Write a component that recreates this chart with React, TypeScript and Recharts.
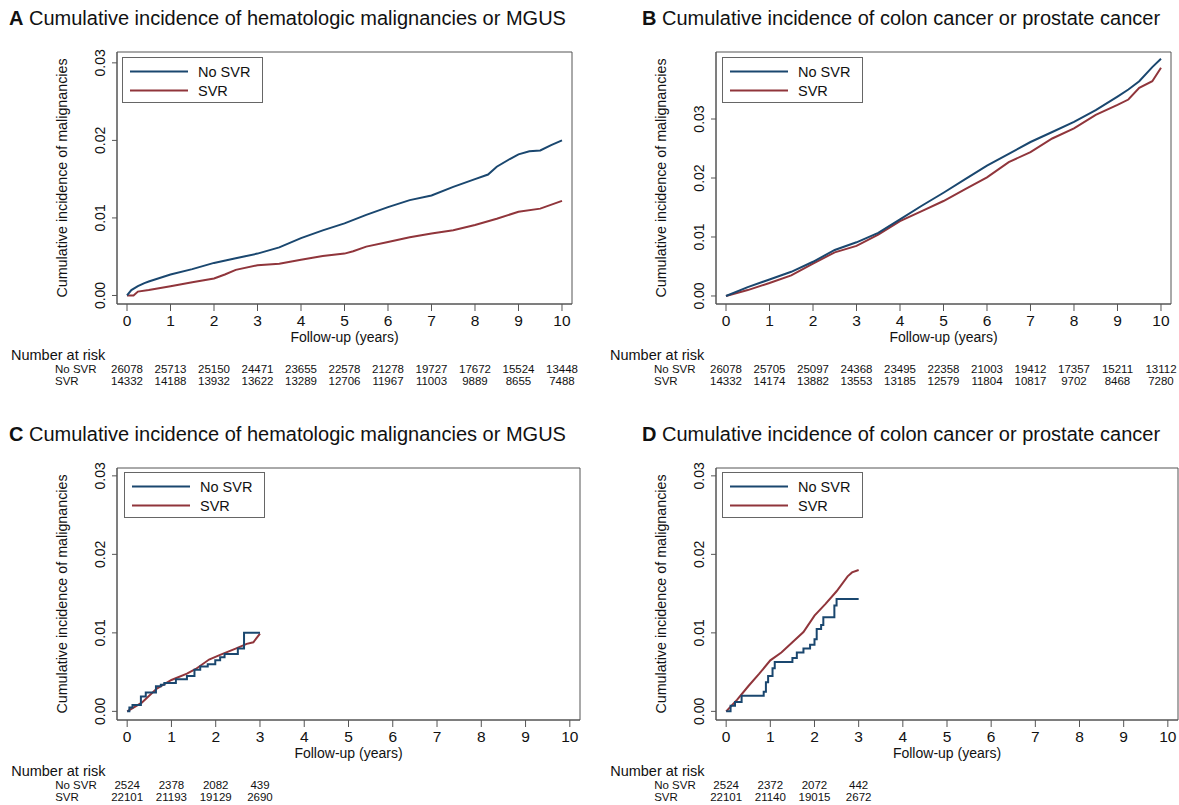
import { LineChart, Line, XAxis, YAxis, Legend, ReferenceArea } from "recharts"

const FONT = '"Liberation Sans", Arial, Helvetica, sans-serif'
const NAVY = "#1a476f"
const MAROON = "#90353b"
const FRAME = "#555"

const years = [0, 1, 2, 3, 4, 5, 6, 7, 8, 9, 10]
const yTicks = [0, 0.01, 0.02, 0.03]

// A: hematologic malignancies or MGUS
const aNoSvrT = [0, 0.1, 0.25, 0.4, 0.5, 1, 1.5, 2, 2.5, 3, 3.5, 4, 4.5, 5, 5.5, 6, 6.5, 7, 7.5, 8, 8.3, 8.5, 8.8, 9, 9.25, 9.5, 9.75, 10]
const aNoSvrV = [0, 0.0007, 0.0012, 0.0016, 0.0018, 0.0027, 0.0034, 0.0042, 0.0048, 0.0054, 0.0062, 0.0074, 0.0084, 0.0093, 0.0104, 0.0114, 0.0123, 0.0129, 0.014, 0.015, 0.0156, 0.0166, 0.0176, 0.0182, 0.0186, 0.0187, 0.0194, 0.02]
const aSvrT = [0, 0.15, 0.25, 0.5, 1, 1.5, 2, 2.25, 2.5, 3, 3.5, 4, 4.5, 5, 5.2, 5.5, 6, 6.5, 7, 7.5, 8, 8.5, 9, 9.5, 10]
const aSvrV = [0, 0, 0.0005, 0.0007, 0.0012, 0.0017, 0.0022, 0.0027, 0.0033, 0.0039, 0.0041, 0.0046, 0.0051, 0.0054, 0.0057, 0.0063, 0.0069, 0.0075, 0.008, 0.0084, 0.0091, 0.0099, 0.0108, 0.0112, 0.0122]
const aRiskNoSvr = [26078, 25713, 25150, 24471, 23655, 22578, 21278, 19727, 17672, 15524, 13448]
const aRiskSvr = [14332, 14188, 13932, 13622, 13289, 12706, 11967, 11003, 9889, 8655, 7488]

// B: colon cancer or prostate cancer
const bT = [0, 0.5, 1, 1.5, 2, 2.5, 3, 3.5, 4, 4.5, 5, 5.5, 6, 6.5, 7, 7.5, 8, 8.5, 9, 9.25, 9.5, 9.8, 10]
const bNoSvrV = [0, 0.0015, 0.0028, 0.0041, 0.0058, 0.0078, 0.0091, 0.0107, 0.013, 0.0153, 0.0175, 0.0198, 0.0221, 0.0241, 0.0261, 0.0278, 0.0295, 0.0315, 0.0338, 0.035, 0.0364, 0.0388, 0.0402]
const bSvrV = [0, 0.001, 0.0022, 0.0035, 0.0055, 0.0074, 0.0085, 0.0104, 0.0127, 0.0144, 0.0161, 0.0181, 0.0201, 0.0227, 0.0244, 0.0267, 0.0284, 0.0307, 0.0324, 0.0333, 0.0353, 0.0364, 0.0387]
const bRiskNoSvr = [26078, 25705, 25097, 24368, 23495, 22358, 21003, 19412, 17357, 15211, 13112]
const bRiskSvr = [14332, 14174, 13882, 13553, 13185, 12579, 11804, 10817, 9702, 8468, 7280]

// C: hematologic malignancies or MGUS
const cNoSvrT = [0, 0.05, 0.12, 0.31, 0.42, 0.65, 0.76, 0.84, 1.1, 1.35, 1.52, 1.65, 1.82, 1.99, 2.1, 2.2, 2.5, 2.64, 3]
const cNoSvrV = [0, 0.0005, 0.0008, 0.0019, 0.0024, 0.0032, 0.0034, 0.0036, 0.0041, 0.0045, 0.0053, 0.0057, 0.006, 0.0065, 0.0069, 0.0073, 0.008, 0.01, 0.01]
const cSvrT = [0, 0.33, 0.67, 1, 1.35, 1.55, 1.85, 2.1, 2.45, 2.7, 2.85, 3]
const cSvrV = [0, 0.0011, 0.0029, 0.004, 0.0048, 0.0054, 0.0066, 0.0072, 0.008, 0.0086, 0.0088, 0.0099]
const cRiskNoSvr = [2524, 2378, 2082, 439]
const cRiskSvr = [22101, 21193, 19129, 2690]

// D: colon cancer or prostate cancer
const dNoSvrT = [0, 0.1, 0.2, 0.35, 0.85, 0.9, 0.95, 1.05, 1.1, 1.5, 1.6, 1.75, 1.9, 2, 2.05, 2.15, 2.2, 2.45, 2.5, 3]
const dNoSvrV = [0, 0.0007, 0.0012, 0.002, 0.0025, 0.0037, 0.0045, 0.0055, 0.0063, 0.0068, 0.0075, 0.008, 0.0085, 0.0092, 0.0105, 0.011, 0.012, 0.0135, 0.0143, 0.0143]
const dSvrT = [0, 0.25, 0.5, 0.75, 1, 1.25, 1.5, 1.75, 2, 2.25, 2.5, 2.75, 2.85, 3]
const dSvrV = [0, 0.0015, 0.0032, 0.0048, 0.0065, 0.0075, 0.0088, 0.0101, 0.0122, 0.0137, 0.0153, 0.0172, 0.0177, 0.018]
const dRiskNoSvr = [2524, 2372, 2072, 442]
const dRiskSvr = [22101, 21140, 19015, 2672]

const pts = (ts: number[], vs: number[]) => ts.map((t, i) => ({ t, v: vs[i] }))

function XTick(props: any) {
  const { x, y, payload, noSvr, svr } = props
  const i = Math.round(payload.value)
  const small = { fontSize: 11.5, fill: "#111", fontFamily: FONT, dominantBaseline: "central" as const }
  return (
    <g>
      <text x={x} y={y + 7.5} textAnchor="middle" dominantBaseline="central" fontSize={15.5} fill="#111" fontFamily={FONT}>
        {payload.value}
      </text>
      {i === 0 && (
        <>
          <text x={x - 116} y={y + 42} fontSize={14.5} fill="#111" fontFamily={FONT} dominantBaseline="central">
            Number at risk
          </text>
          <text x={x - 72} y={y + 56} {...small}>No SVR</text>
          <text x={x - 72} y={y + 68} {...small}>SVR</text>
        </>
      )}
      {noSvr[i] != null && (
        <text x={x} y={y + 56} textAnchor="middle" {...small}>{noSvr[i]}</text>
      )}
      {svr[i] != null && (
        <text x={x} y={y + 68} textAnchor="middle" {...small}>{svr[i]}</text>
      )}
    </g>
  )
}

function YTick(props: any) {
  const { x, y, payload } = props
  const cx = x - 10
  return (
    <text x={cx} y={y} transform={`rotate(-90 ${cx} ${y})`} textAnchor="middle" dominantBaseline="central" fontSize={14} fill="#111" fontFamily={FONT}>
      {Number(payload.value).toFixed(2)}
    </text>
  )
}

function LegendBox(props: any) {
  const items = props.payload || []
  return (
    <div style={{ width: 141, height: 46, boxSizing: "border-box", border: "1px solid #666", background: "#fff", paddingTop: 4, fontFamily: FONT, fontSize: 14.5, color: "#111" }}>
      {items.map((e: any) => (
        <div key={e.value} style={{ display: "flex", alignItems: "center", height: 19 }}>
          <svg width={75} height={19}>
            <line x1={7} x2={65} y1={9.5} y2={9.5} stroke={e.color} strokeWidth={2} />
          </svg>
          <span>{e.value}</span>
        </div>
      ))}
    </div>
  )
}

interface PanelProps {
  left: number
  top: number
  width: number
  height: number
  yAxisW: number
  xAxisH: number
  marginRight: number
  yDomain: [number, number]
  noSvr: { t: number; v: number }[]
  svr: { t: number; v: number }[]
  step: boolean
  riskNoSvr: number[]
  riskSvr: number[]
  legendLeft: number
  legendTop: number
}

const xDomain: [number, number] = [-0.23, 10.23]

function Panel(p: PanelProps) {
  return (
    <div style={{ position: "absolute", left: p.left, top: p.top }}>
      <LineChart width={p.width} height={p.height} margin={{ top: 52, right: p.marginRight, bottom: 0, left: 0 }}>
        <ReferenceArea x1={xDomain[0]} x2={xDomain[1]} y1={p.yDomain[0]} y2={p.yDomain[1]} fill="none" stroke={FRAME} strokeWidth={1} ifOverflow="visible" />
        <XAxis
          type="number"
          dataKey="t"
          domain={xDomain}
          allowDataOverflow
          ticks={years}
          interval={0}
          height={p.xAxisH}
          tickSize={7}
          stroke={FRAME}
          tick={<XTick noSvr={p.riskNoSvr} svr={p.riskSvr} />}
          label={(lp: any) => {
            const vb = lp.viewBox || lp
            return (
              <text x={vb.x + vb.width / 2} y={vb.y + 32.5} textAnchor="middle" dominantBaseline="central" fontSize={14} fill="#111" fontFamily={FONT}>
                Follow-up (years)
              </text>
            )
          }}
        />
        <YAxis
          type="number"
          domain={p.yDomain}
          allowDataOverflow
          ticks={yTicks}
          interval={0}
          width={p.yAxisW}
          tickSize={5}
          stroke={FRAME}
          tick={<YTick />}
          label={(lp: any) => {
            const vb = lp.viewBox || lp
            const cx = vb.x + vb.width - 55
            const cy = vb.y + vb.height / 2
            return (
              <text x={cx} y={cy} transform={`rotate(-90 ${cx} ${cy})`} textAnchor="middle" dominantBaseline="central" fontSize={14.3} fill="#111" fontFamily={FONT}>
                Cumulative incidence of malignancies
              </text>
            )
          }}
        />
        <Legend
          layout="vertical"
          align="center"
          verticalAlign="middle"
          content={<LegendBox />}
          wrapperStyle={{ left: p.legendLeft, top: p.legendTop, width: 141, height: 46 }}
        />
        <Line data={p.svr} dataKey="v" name="SVR" type="linear" stroke={MAROON} strokeWidth={2} dot={false} activeDot={false} isAnimationActive={false} />
        <Line data={p.noSvr} dataKey="v" name="No SVR" type={p.step ? "stepAfter" : "linear"} stroke={NAVY} strokeWidth={2} dot={false} activeDot={false} isAnimationActive={false} />
      </LineChart>
    </div>
  )
}

function Title({ left, top, letter, text }: { left: number; top: number; letter: string; text: string }) {
  return (
    <div style={{ position: "absolute", left, top, fontFamily: FONT, fontSize: 20, lineHeight: "22px", color: "#111", whiteSpace: "nowrap" }}>
      <b>{letter}</b> {text}
    </div>
  )
}

export default function App() {
  return (
    <div style={{ position: "absolute", left: 0, top: 0, width: 1179, height: 805, background: "#fff", overflow: "hidden" }}>
      <Title left={9} top={7} letter="A" text="Cumulative incidence of hematologic malignancies or MGUS" />
      <Title left={642} top={7} letter="B" text="Cumulative incidence of colon cancer or prostate cancer" />
      <Title left={9} top={423} letter="C" text="Cumulative incidence of hematologic malignancies or MGUS" />
      <Title left={642} top={423} letter="D" text="Cumulative incidence of colon cancer or prostate cancer" />
      <Panel left={0} top={0} width={590} height={400} yAxisW={117} xAxisH={96} marginRight={18}
        yDomain={[-0.0011, 0.0314]} noSvr={pts(aNoSvrT, aNoSvrV)} svr={pts(aSvrT, aSvrV)} step={false}
        riskNoSvr={aRiskNoSvr} riskSvr={aRiskSvr} legendLeft={122} legendTop={57} />
      <Panel left={590} top={0} width={589} height={400} yAxisW={126} xAxisH={96} marginRight={8}
        yDomain={[-0.00136, 0.04136]} noSvr={pts(bT, bNoSvrV)} svr={pts(bT, bSvrV)} step={false}
        riskNoSvr={bRiskNoSvr} riskSvr={bRiskSvr} legendLeft={132} legendTop={57} />
      <Panel left={0} top={416} width={590} height={389} yAxisW={117} xAxisH={85} marginRight={10}
        yDomain={[-0.0011, 0.031]} noSvr={pts(cNoSvrT, cNoSvrV)} svr={pts(cSvrT, cSvrV)} step={true}
        riskNoSvr={cRiskNoSvr} riskSvr={cRiskSvr} legendLeft={124} legendTop={56} />
      <Panel left={590} top={416} width={589} height={389} yAxisW={126} xAxisH={85} marginRight={1}
        yDomain={[-0.0011, 0.031]} noSvr={pts(dNoSvrT, dNoSvrV)} svr={pts(dSvrT, dSvrV)} step={true}
        riskNoSvr={dRiskNoSvr} riskSvr={dRiskSvr} legendLeft={132} legendTop={56} />
    </div>
  )
}
